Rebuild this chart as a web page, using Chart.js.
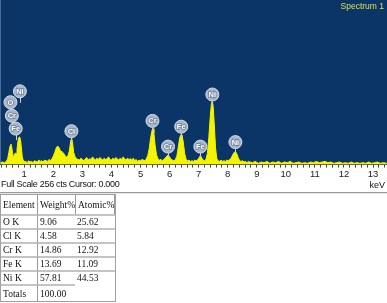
<!DOCTYPE html>
<html>
<head>
<meta charset="utf-8">
<script src="https://cdn.jsdelivr.net/npm/chart.js@4.4.1/dist/chart.umd.min.js"></script>
<style>
  html, body { margin: 0; padding: 0; background: #fff; }
  body { width: 387px; height: 303px; position: relative; overflow: hidden; font-family: "Liberation Sans", Arial, sans-serif; }
  #wrap { position: absolute; left: 0; top: 0; width: 387px; height: 181px; }
  #status { position: absolute; left: 1px; top: 179px; font-size: 9px; letter-spacing: -0.3px; color: #111; white-space: nowrap; }
  #unit { position: absolute; right: 2px; top: 180px; font-size: 9px; color: #111; }
  #rule { position: absolute; left: 0; top: 192px; width: 387px; border-top: 1px solid #9a9a9a; border-bottom: 1px solid #e6e6e6; }
  table { position: absolute; left: 0; top: 194px; width: 116px; table-layout: fixed; border-collapse: separate; border-spacing: 0; border: 1px solid #a0a0a0;
          font-family: "Liberation Serif", "Times New Roman", serif; font-size: 9.5px; color: #111; }
  td { padding: 0 1px 0 2px; height: 14px; line-height: 12px; border-top: 2px solid #c4c4c4; vertical-align: middle; white-space: nowrap; overflow: hidden; box-sizing: border-box; }
  tr.head td { border-top: none; height: 19px; border-left: 1px solid #9a9a9a; }
  tr.head td:first-child { border-left: none; }
  tr.head td:last-child { border-right: 1px solid #9a9a9a; }
  td.c1 { width: 36px; }
  td.c2 { width: 38px; border-left: 1px solid #9a9a9a; }
  td.c3 { width: 40px; }
  tr.tot td { height: 17px; }
</style>
</head>
<body>
<div id="wrap"><canvas id="c"></canvas></div>
<div id="status">Full Scale 256 cts Cursor: 0.000</div>
<div id="unit">keV</div>
<div id="rule"></div>
<table id="tbl"></table>
<script>
// ---- Spectrum data (energy in keV, counts) ----
const energies = [
  0.18,0.25,0.32,0.38,0.43,0.47,0.51,0.54,0.57,0.60,0.63,0.66,0.69,0.72,0.75,0.78,0.81,0.84,0.87,0.90,0.93,0.96,1.00,
  1.05,1.10,1.15,1.20,1.25,1.30,1.35,1.40,1.45,1.50,1.55,1.60,1.65,1.70,1.75,1.80,1.85,1.90,1.95,
  2.00,2.05,2.10,2.15,2.20,2.25,2.30,2.35,2.40,2.45,2.50,2.55,2.60,2.63,2.66,2.70,2.75,2.80,2.85,
  2.90,2.95,3.00,3.05,3.10,3.15,3.20,3.25,3.30,3.35,3.40,3.45,3.50,3.55,3.60,3.65,3.70,3.75,3.80,3.85,3.90,3.95,
  4.00,4.05,4.10,4.15,4.20,4.25,4.30,4.35,4.40,4.45,4.50,4.55,4.60,4.65,4.70,4.75,4.80,4.85,4.90,4.95,5.00,5.05,5.10,5.15,5.20,
  5.25,5.30,5.35,5.40,5.43,5.46,5.50,5.55,5.60,5.65,5.70,5.75,5.80,5.85,5.90,5.95,6.00,6.05,6.10,6.15,6.20,
  6.25,6.30,6.35,6.40,6.43,6.47,6.52,6.57,6.62,6.67,6.72,6.77,6.82,6.87,6.92,6.97,7.02,7.06,7.10,7.15,7.20,7.25,
  7.30,7.35,7.40,7.44,7.47,7.50,7.54,7.58,7.62,7.67,7.72,7.77,7.82,7.87,7.92,7.97,8.02,8.07,8.12,8.17,8.22,8.27,8.31,8.36,8.41,8.46,8.51,8.56,8.61,8.66,8.71,8.76,
  8.85,8.95,9.05,9.15,9.25,9.35,9.45,9.55,9.65,9.75,9.85,9.95,10.05,10.15,10.25,10.35,10.45,10.55,10.65,10.75,10.85,10.95,
  11.05,11.15,11.25,11.35,11.45,11.55,11.65,11.75,11.85,11.95,12.05,12.15,12.25,12.35,12.45,12.55,12.65,12.75,12.85,12.95,13.05,13.15,13.25,13.35,13.48
];
const counts = [
  3,4,3,5,9,19,29,32,27,17,11,15,18,17,23,35,42,43,39,27,13,7,5,
  5,3,6,4,5,3,6,5,4,7,5,6,4,7,6,5,8,6,9,
  13,19,26,29,26,21,20,18,14,12,13,21,37,41,35,19,12,9,8,
  7,10,8,6,9,11,7,9,8,12,9,7,10,8,11,9,7,10,8,9,12,8,
  7,10,8,11,9,7,10,8,12,9,7,10,8,9,7,10,6,8,5,7,6,8,7,6,9,
  14,25,42,54,56,49,31,15,9,7,8,6,8,10,13,15,12,8,7,6,8,
  13,27,42,47,46,35,17,8,6,7,5,6,5,7,6,8,11,14,11,7,6,8,
  17,42,75,95,99,90,60,27,10,6,5,7,5,6,5,7,6,8,10,15,19,20,17,11,6,5,6,4,5,3,5,4,
  3,5,2,4,3,5,2,4,3,5,2,4,3,5,2,3,4,2,3,2,4,3,
  5,3,4,5,3,4,2,3,4,2,3,2,4,2,3,2,3,2,4,2,3,4,2,3,2
];

// ---- Peak identification labels ----
const labelNames    = ["Ni", "O", "Cr", "Fe", "Cl", "Cr", "Cr", "Fe", "Fe", "Ni", "Ni"];
const labelEnergies = [0.851, 0.525, 0.573, 0.705, 2.622, 5.411, 5.946, 6.400, 7.058, 7.471, 8.264];
const labelHeights  = [114, 97, 76, 56, 52, 68, 28, 59, 28, 109, 35];

// ---- Axis settings ----
const xMin = 0.175, xMax = 13.48, fullScale = 256;
const spectrumTitle = "Spectrum 1";

// ---- Quantification table ----
const elements = ["O K", "Cl K", "Cr K", "Fe K", "Ni K"];
const weightPct = ["9.06", "4.58", "14.86", "13.69", "57.81"];
const atomicPct = ["25.62", "5.84", "12.92", "11.09", "44.53"];
const totalWeight = "100.00";

// build table
(function () {
  const t = document.getElementById('tbl');
  let h = '<tr class="head"><td class="c1">Element</td><td class="c2">Weight%</td><td class="c3">Atomic%</td></tr>';
  for (let i = 0; i < elements.length; i++) {
    h += '<tr><td class="c1">' + elements[i] + '</td><td class="c2">' + weightPct[i] + '</td><td class="c3">' + atomicPct[i] + '</td></tr>';
  }
  h += '<tr class="tot"><td class="c1">Totals</td><td class="c2">' + totalWeight + '</td><td class="c3" style="border-top:none"></td></tr>';
  t.innerHTML = h;
})();

const points = energies.map((e, i) => ({ x: e, y: counts[i] }));

const bgPlugin = {
  id: 'bg',
  beforeDraw(chart) {
    const { ctx, chartArea: a } = chart;
    ctx.save();
    ctx.fillStyle = '#0b3467';
    ctx.fillRect(a.left, a.top, a.right - a.left, a.bottom - a.top);
    ctx.restore();
  }
};

const labelPlugin = {
  id: 'peakLabels',
  afterDatasetsDraw(chart) {
    const { ctx, chartArea: a } = chart;
    const xs = chart.scales.x, ys = chart.scales.y;
    ctx.save();
    // title
    ctx.fillStyle = '#d6e04c';
    ctx.font = '8.5px "Liberation Sans", Arial, sans-serif';
    ctx.textAlign = 'right';
    ctx.textBaseline = 'middle';
    ctx.fillText(spectrumTitle, a.right - 3, a.top + 7);
    const r = 6.5;
    for (let i = 0; i < labelNames.length; i++) {
      const x = xs.getPixelForValue(labelEnergies[i]);
      const y = ys.getPixelForValue(labelHeights[i]);
      ctx.strokeStyle = '#c9d3df';
      ctx.lineWidth = 1;
      ctx.beginPath();
      ctx.moveTo(Math.round(x) + 0.5, y + r);
      ctx.lineTo(Math.round(x) + 0.5, y + r + 5);
      ctx.stroke();
      ctx.beginPath();
      ctx.arc(x, y, r, 0, Math.PI * 2);
      ctx.fillStyle = '#a6b5c9';
      ctx.fill();
      ctx.strokeStyle = '#d4dce6';
      ctx.stroke();
      ctx.font = 'bold 7.5px "Liberation Sans", Arial, sans-serif';
      ctx.textAlign = 'center';
      ctx.textBaseline = 'middle';
      ctx.lineWidth = 1.5;
      ctx.strokeStyle = '#6f7f95';
      ctx.strokeText(labelNames[i], x, y + 0.5);
      ctx.fillStyle = '#ffffff';
      ctx.fillText(labelNames[i], x, y + 0.5);
    }
    ctx.restore();
  }
};

new Chart(document.getElementById('c'), {
  type: 'line',
  data: {
    datasets: [{
      data: points,
      borderColor: '#f4f400',
      backgroundColor: '#f4f400',
      borderWidth: 1,
      pointRadius: 0,
      fill: 'origin',
      tension: 0
    }]
  },
  options: {
    responsive: true,
    maintainAspectRatio: false,
    devicePixelRatio: 1,
    animation: false,
    events: [],
    layout: { padding: 0 },
    plugins: { legend: { display: false }, tooltip: { enabled: false } },
    scales: {
      x: {
        type: 'linear',
        min: xMin,
        max: xMax,
        afterBuildTicks(axis) {
          axis.ticks = axis.ticks.filter(t => Math.abs(t.value * 5 - Math.round(t.value * 5)) < 1e-6);
        },
        ticks: {
          stepSize: 0.2,
          includeBounds: false,
          autoSkip: false,
          maxRotation: 0,
          padding: 1,
          color: '#222',
          font: { family: '"Liberation Sans", Arial, sans-serif', size: 9.5 },
          callback: v => (Math.abs(v - Math.round(v)) < 1e-6 ? String(Math.round(v)) : '')
        },
        grid: { display: true, drawOnChartArea: false, drawTicks: true, tickLength: 3, color: '#444' },
        border: { display: true, color: '#555', width: 1 }
      },
      y: {
        type: 'linear',
        display: false,
        min: 0,
        max: fullScale
      }
    }
  },
  plugins: [bgPlugin, labelPlugin]
});
</script>
</body>
</html>
